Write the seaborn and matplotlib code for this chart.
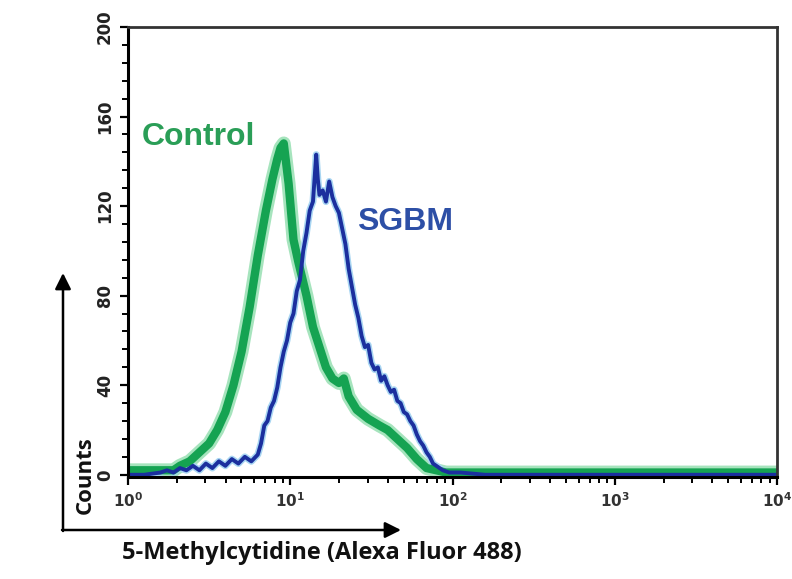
import numpy as np
import pandas as pd
import matplotlib
matplotlib.use("Agg")
import matplotlib.pyplot as plt
import seaborn as sns
from matplotlib.ticker import FixedLocator, LogLocator, NullFormatter

# ---- data (log10 of fluorescence intensity, counts) ----
control_log = [0.00, 0.10, 0.20, 0.28, 0.32, 0.38, 0.44, 0.50, 0.55, 0.60, 0.65,
               0.70, 0.75, 0.80, 0.85, 0.89, 0.92, 0.94, 0.96, 0.99, 1.02, 1.05,
               1.10, 1.14, 1.18, 1.22, 1.26, 1.30, 1.33, 1.36, 1.41, 1.48, 1.55,
               1.60, 1.66, 1.72, 1.78, 1.84, 1.90, 1.96, 2.10, 2.40, 3.00, 3.50, 4.00]
control_cnt = [2, 2, 2, 2, 4, 6, 10, 14, 20, 28, 40,
               55, 75, 98, 118, 132, 141, 146, 148, 130, 105, 95,
               80, 66, 57, 48, 43, 41, 43, 35, 29, 25, 22,
               20, 16, 12, 7, 3, 2, 1, 1, 1, 1, 1, 1]

sgbm_log = [0.00, 0.10, 0.20, 0.24, 0.28, 0.32, 0.36, 0.40, 0.44, 0.48, 0.52,
            0.56, 0.60, 0.64, 0.68, 0.72, 0.76, 0.80, 0.82, 0.84, 0.86, 0.88,
            0.90, 0.92, 0.94, 0.96, 0.98, 1.00, 1.02, 1.04, 1.06, 1.08, 1.10,
            1.12, 1.14, 1.16, 1.17, 1.18, 1.20, 1.22, 1.24, 1.26, 1.28, 1.30,
            1.32, 1.34, 1.36, 1.38, 1.40, 1.42, 1.44, 1.46, 1.48, 1.50, 1.52,
            1.54, 1.56, 1.58, 1.60, 1.62, 1.64, 1.66, 1.68, 1.70, 1.72, 1.74,
            1.76, 1.78, 1.80, 1.82, 1.84, 1.86, 1.88, 1.90, 1.92, 1.94, 1.98,
            2.05, 2.20, 3.00, 4.00]
sgbm_cnt = [0, 0, 1, 2, 1, 3, 2, 4, 2, 5, 3,
            6, 4, 7, 5, 8, 6, 9, 14, 22, 24, 30,
            33, 39, 48, 55, 60, 68, 72, 82, 87, 100, 108,
            118, 122, 143, 132, 125, 127, 122, 131, 124, 120, 117,
            110, 103, 92, 84, 76, 70, 62, 57, 58, 50, 47,
            48, 42, 44, 40, 37, 38, 33, 32, 28, 27, 24,
            22, 18, 15, 13, 10, 8, 5, 4, 3, 2, 1,
            1, 0, 0, 0]

y_ticks = [0, 40, 80, 120, 160, 200]
x_ticks = [1, 10, 100, 1000, 10000]
x_tick_labels = [r"$\mathbf{10^{0}}$", r"$\mathbf{10^{1}}$", r"$\mathbf{10^{2}}$",
                 r"$\mathbf{10^{3}}$", r"$\mathbf{10^{4}}$"]

ctrl = pd.DataFrame({"x": np.power(10.0, control_log), "y": control_cnt})
sgbm = pd.DataFrame({"x": np.power(10.0, sgbm_log), "y": sgbm_cnt})

sns.set_style("white")
plt.rcParams["font.family"] = ["DejaVu Sans"]

fig = plt.figure(figsize=(7.92, 5.79), dpi=100)
ax = fig.add_axes([128/792, 1-477/579, (777-128)/792, (477-27)/579])

# halos
sns.lineplot(data=ctrl, x="x", y="y", ax=ax, color="#a6e4bd", lw=10, estimator=None, sort=False)
sns.lineplot(data=sgbm, x="x", y="y", ax=ax, color="#a9d6f2", lw=5, estimator=None, sort=False)
# main lines
sns.lineplot(data=ctrl, x="x", y="y", ax=ax, color="#15a352", lw=6, estimator=None, sort=False)
sns.lineplot(data=sgbm, x="x", y="y", ax=ax, color="#1b2f9e", lw=2.8, estimator=None, sort=False)

ax.set_xscale("log")
ax.set_xlim(1, 10000)
ax.set_ylim(-1, 200)
ax.set_xlabel("")
ax.set_ylabel("")

ax.set_xticks(x_ticks)
ax.set_xticklabels(x_tick_labels, fontsize=11, color="#333333")
ax.xaxis.set_minor_locator(LogLocator(base=10, subs=np.arange(2, 10)))
ax.xaxis.set_minor_formatter(NullFormatter())

ax.set_yticks(y_ticks)
ax.set_yticklabels([str(v) for v in y_ticks], fontsize=12, fontweight="bold",
                   rotation=90, va="center", color="#222222")
ax.yaxis.set_minor_locator(FixedLocator(list(range(0, 201, 8))))

ax.tick_params(axis="both", which="major", direction="out", length=6, width=1.6,
               color="black", bottom=True, left=True)
ax.tick_params(axis="both", which="minor", direction="out", length=4, width=1.4,
               color="black", bottom=True, left=True)
ax.tick_params(axis="y", pad=4)
ax.tick_params(axis="x", pad=4)

for s in ["left", "bottom"]:
    ax.spines[s].set_color("black")
    ax.spines[s].set_linewidth(2.2)
for s in ["top", "right"]:
    ax.spines[s].set_color("#333333")
    ax.spines[s].set_linewidth(2.0)

# curve labels
fig.text(142/792, 1-137/579, "Control", color="#2a9e57", fontsize=23, fontweight="bold",
         family=["Liberation Sans", "DejaVu Sans"], ha="left", va="center")
fig.text(357/792, 1-222/579, "SGBM", color="#2d4fa6", fontsize=23, fontweight="bold",
         family=["Liberation Sans", "DejaVu Sans"], ha="left", va="center")

# axis labels outside with arrows
fig.text(122/792, 1-553/579, "5-Methylcytidine (Alexa Fluor 488)", fontsize=17,
         fontweight="bold", family=["Open Sans", "DejaVu Sans"], ha="left", va="center",
         color="#111111")
fig.text(85/792, 1-475/579, "Counts", fontsize=16, fontweight="bold", rotation=90,
         family=["Open Sans", "DejaVu Sans"], ha="center", va="center", color="#111111")

ax.annotate("", xy=(63, 579-273), xytext=(63, 579-531), xycoords="figure pixels",
            textcoords="figure pixels",
            arrowprops=dict(arrowstyle="-|>", lw=1.8, color="black", mutation_scale=24,
                            shrinkA=0, shrinkB=0))
ax.annotate("", xy=(401, 579-530), xytext=(62, 579-530), xycoords="figure pixels",
            textcoords="figure pixels",
            arrowprops=dict(arrowstyle="-|>", lw=1.8, color="black", mutation_scale=24,
                            shrinkA=0, shrinkB=0))

fig.savefig("out.png", dpi=100)
